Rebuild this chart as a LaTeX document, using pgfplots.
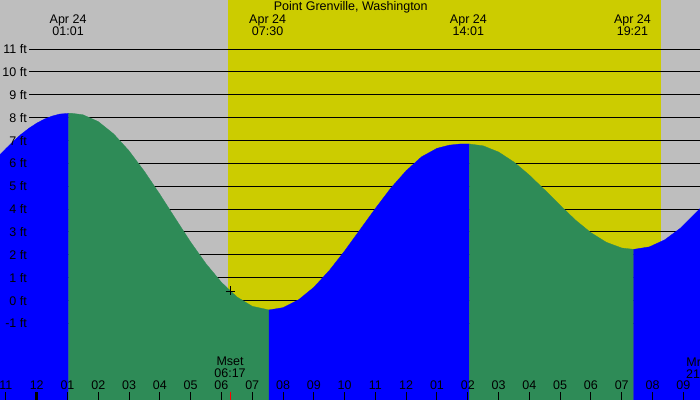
\documentclass[border=0pt]{standalone}
\usepackage{fontspec}
\setmainfont{Liberation Sans}
\usepackage{pgfplots}
\pgfplotsset{compat=1.18}
\definecolor{bggray}{RGB}{190,190,190}
\definecolor{dayyel}{RGB}{204,204,0}
\definecolor{ebbgreen}{RGB}{46,139,87}
\definecolor{floodblue}{RGB}{0,0,255}
\newcommand\lf{\fontsize{12.5}{12}\selectfont}
\begin{document}
\begin{tikzpicture}[font=\lf]
\begin{axis}[
  width=700pt, height=400pt, scale only axis,
  xmin=-1.192, xmax=21.543, ymin=-4.35, ymax=13.15,
  axis line style={draw=none}, xtick=\empty, ytick=\empty,
  clip=true,
]
\coordinate (SW) at (rel axis cs:0,0);
\coordinate (NE) at (rel axis cs:1,1);
% night background and daylight
\addplot[fill=bggray, draw=none] coordinates {(-2,-5) (-2,14) (23,14) (23,-5)} -- cycle;
\addplot[fill=dayyel, draw=none] coordinates {(6.213,-5) (6.213,14) (20.29,14) (20.29,-5)} -- cycle;
% level lines
\pgfplotsinvokeforeach{-1,...,11}{\addplot[black, line width=1pt] coordinates {(-0.25,#1) (23,#1)};}
% rising (flood) to high 01:01
\addplot[fill=floodblue, draw=floodblue, line width=0.3pt] coordinates {
 (-1.4,-5) (-1.4,6.08) (-1.192,6.38) (-1,6.65) (-0.75,6.98) (-0.5,7.28) (-0.25,7.54)
 (0,7.76) (0.25,7.94) (0.5,8.07) (0.75,8.16) (1.04,8.19) (1.04,-5)} -- cycle;
% falling (ebb) to low 07:30
\addplot[fill=ebbgreen, draw=ebbgreen, line width=0.3pt] coordinates {
 (1.04,-5) (1.04,8.19) (1.153,8.19) (1.5,8.13) (2,7.83) (2.5,7.29) (3,6.55) (3.5,5.65)
 (4,4.65) (4.5,3.60) (5,2.56) (5.5,1.61) (6,0.80) (6.5,0.16) (7,-0.25) (7.545,-0.41) (7.545,-5)} -- cycle;
% rising to high 14:01
\addplot[fill=floodblue, draw=floodblue, line width=0.3pt] coordinates {
 (7.545,-5) (7.545,-0.41) (8,-0.31) (8.5,0.03) (9,0.58) (9.5,1.31) (10,2.17) (10.5,3.10)
 (11,4.03) (11.5,4.92) (12,5.68) (12.5,6.29) (13,6.66) (13.4,6.80) (13.75,6.85) (14.05,6.85) (14.05,-5)} -- cycle;
% falling to low 19:21
\addplot[fill=ebbgreen, draw=ebbgreen, line width=0.3pt] coordinates {
 (14.05,-5) (14.05,6.85) (14.5,6.77) (15,6.50) (15.5,6.06) (16,5.49) (16.5,4.84) (17,4.17)
 (17.5,3.52) (18,2.97) (18.5,2.55) (19,2.30) (19.39,2.24) (19.39,-5)} -- cycle;
% rising after 19:21
\addplot[fill=floodblue, draw=floodblue, line width=0.3pt] coordinates {
 (19.39,-5) (19.39,2.24) (19.9,2.35) (20.4,2.66) (20.9,3.16) (21.543,4.02) (21.8,4.45) (21.8,-5)} -- cycle;
% moonset marker
\addplot[only marks, mark=+, mark size=4.5pt, black, line width=0.8pt] coordinates {(6.28,0.42)};
% hour ticks
\pgfplotsinvokeforeach{-1,...,21}{\draw[black, line width=1pt] (axis cs:#1,-4.35) -- (axis cs:#1,-4.0);}
\draw[black, line width=3pt] (axis cs:0,-4.35) -- (axis cs:0,-4.0);
\draw[red, line width=1pt] (axis cs:6.30,-4.35) -- (axis cs:6.30,-4.0);
% hour labels
\node at (axis cs:-1,-3.71) {11};
\node at (axis cs:0,-3.71) {12};
\node at (axis cs:1,-3.71) {01};
\node at (axis cs:2,-3.71) {02};
\node at (axis cs:3,-3.71) {03};
\node at (axis cs:4,-3.71) {04};
\node at (axis cs:5,-3.71) {05};
\node at (axis cs:6,-3.71) {06};
\node at (axis cs:7,-3.71) {07};
\node at (axis cs:8,-3.71) {08};
\node at (axis cs:9,-3.71) {09};
\node at (axis cs:10,-3.71) {10};
\node at (axis cs:11,-3.71) {11};
\node at (axis cs:12,-3.71) {12};
\node at (axis cs:13,-3.71) {01};
\node at (axis cs:14,-3.71) {02};
\node at (axis cs:15,-3.71) {03};
\node at (axis cs:16,-3.71) {04};
\node at (axis cs:17,-3.71) {05};
\node at (axis cs:18,-3.71) {06};
\node at (axis cs:19,-3.71) {07};
\node at (axis cs:20,-3.71) {08};
\node at (axis cs:21,-3.71) {09};
% level labels
\pgfplotsinvokeforeach{0,...,11}{\node[anchor=east, inner sep=0pt] at (axis cs:-0.315,#1) {#1 ft};}
\node[anchor=east, inner sep=0pt] at (axis cs:-0.315,-1) {-1 ft};
% title and extreme labels
\node at (axis cs:10.2,12.84) {Point Grenville, Washington};
\node[align=center, inner sep=0pt] at (axis cs:1.02,12.03) {Apr 24\\01:01};
\node[align=center, inner sep=0pt] at (axis cs:7.50,12.03) {Apr 24\\07:30};
\node[align=center, inner sep=0pt] at (axis cs:14.02,12.03) {Apr 24\\14:01};
\node[align=center, inner sep=0pt] at (axis cs:19.35,12.03) {Apr 24\\19:21};
% moon labels
\node[align=center, inner sep=0pt] at (axis cs:6.28,-2.93) {Mset\\06:17};
\node[align=center, inner sep=0pt] at (axis cs:21.60,-2.93) {Mrise\\21:37};
\end{axis}
\pgfresetboundingbox
\useasboundingbox (SW) rectangle (NE);
\end{tikzpicture}
\end{document}
